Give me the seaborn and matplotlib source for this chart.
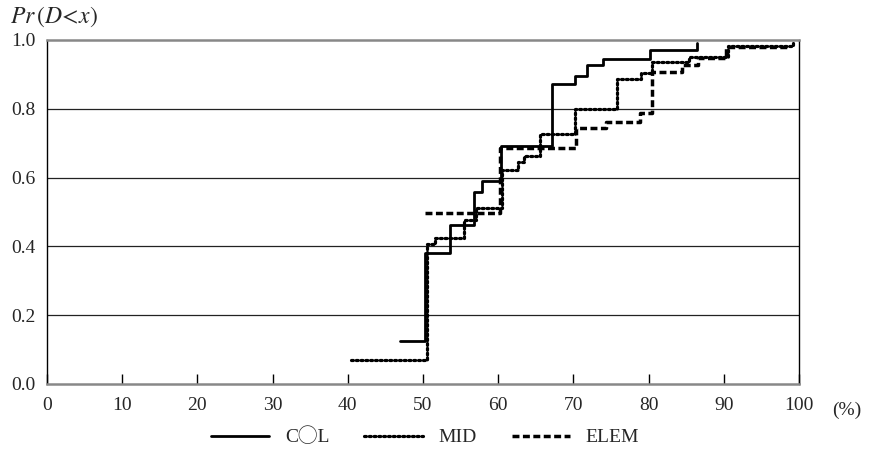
import matplotlib
matplotlib.use("Agg")
import matplotlib.pyplot as plt
import seaborn as sns
import pandas as pd

# ---- data ----
col_x = [47.0, 50.3, 53.6, 56.8, 57.8, 60.4, 67.2, 70.2, 71.8, 74.0, 80.2, 86.5]
col_y = [0.125, 0.381, 0.462, 0.559, 0.591, 0.691, 0.872, 0.895, 0.926, 0.945, 0.970, 0.992]

mid_x = [40.4, 50.5, 51.6, 55.4, 57.0, 60.5, 62.6, 63.4, 65.6, 70.2, 75.8, 79.0, 80.4, 85.4, 90.5, 99.2]
mid_y = [0.070, 0.406, 0.424, 0.477, 0.511, 0.622, 0.645, 0.663, 0.727, 0.800, 0.886, 0.904, 0.935, 0.950, 0.984, 0.995]

elem_x = [50.3, 60.3, 70.3, 74.4, 78.9, 80.4, 84.4, 86.6, 90.3, 98.8]
elem_y = [0.496, 0.687, 0.745, 0.763, 0.789, 0.908, 0.927, 0.947, 0.980, 0.980]

series_names = ["C\u25EFL", "MID", "ELEM"]
x_ticks = [0, 10, 20, 30, 40, 50, 60, 70, 80, 90, 100]
y_ticks = [0.0, 0.2, 0.4, 0.6, 0.8, 1.0]

sns.set_theme(style="white")
plt.rcParams["font.family"] = ["Liberation Serif", "Noto Sans CJK JP", "DejaVu Sans"]
plt.rcParams["mathtext.fontset"] = "stix"

fig = plt.figure(figsize=(8.77, 4.53), dpi=100)
ax = fig.add_axes([47 / 877, 1 - 384 / 453, (799 - 47) / 877, (384 - 40) / 453])

styles = [
    dict(linestyle="-", linewidth=2.0),
    dict(linestyle=(0, (0.6, 0.9)), linewidth=2.3, dash_capstyle="round"),
    dict(linestyle=(0, (2.0, 1.0)), linewidth=2.5),
]
data = [(col_x, col_y), (mid_x, mid_y), (elem_x, elem_y)]
for (xs, ys), name, st in zip(data, series_names, styles):
    df = pd.DataFrame({"x": xs, "y": ys})
    sns.lineplot(data=df, x="x", y="y", ax=ax, color="black",
                 drawstyle="steps-post", label=name, estimator=None,
                 sort=True, **st)

ax.set_xlim(0, 100)
ax.set_ylim(0, 1.0)
ax.set_xticks(x_ticks)
ax.set_xticklabels([str(t) for t in x_ticks])
ax.set_yticks(y_ticks)
ax.set_yticklabels([f"{t:.1f}" for t in y_ticks])
ax.set_xlabel("")
ax.set_ylabel("")

for yv in y_ticks[1:-1]:
    ax.axhline(yv, color="#222222", linewidth=0.9, zorder=0)

ax.spines["top"].set_color("#888888")
ax.spines["top"].set_linewidth(1.8)
ax.spines["bottom"].set_color("#888888")
ax.spines["bottom"].set_linewidth(1.8)
ax.spines["left"].set_color("black")
ax.spines["left"].set_linewidth(1.0)
ax.spines["right"].set_color("black")
ax.spines["right"].set_linewidth(1.0)

ax.tick_params(axis="x", direction="in", length=7, width=1, color="black",
               labelsize=14, pad=9, bottom=True)
ax.tick_params(axis="y", length=0, labelsize=14, pad=8, left=False)

ax.text(1.044, -0.078, "(%)", transform=ax.transAxes, fontsize=14,
        ha="left", va="center")
fig.text(10 / 877, 1 - 17 / 453, r"$Pr\,(D\!<\!x)$", fontsize=17,
         ha="left", va="center")

ax.get_legend().remove()
handles, labels = ax.get_legend_handles_labels()
fig.legend(handles, labels, loc="center", bbox_to_anchor=(425 / 877, 1 - 437 / 453),
           ncol=3, frameon=False, fontsize=14, handlelength=3.0,
           columnspacing=1.8, handletextpad=0.8)

fig.savefig("out.png", dpi=100)
